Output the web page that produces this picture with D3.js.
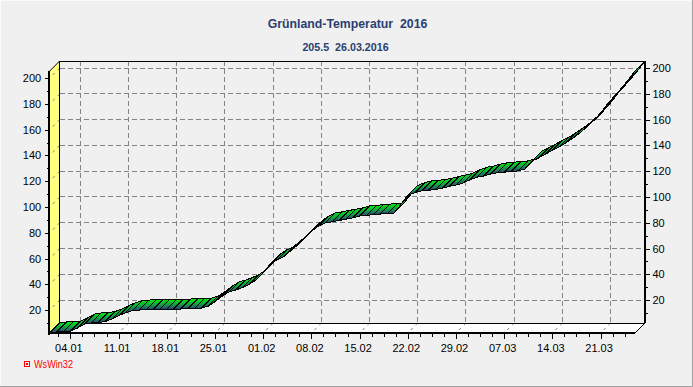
<!DOCTYPE html>
<html><head><meta charset="utf-8">
<script src="https://cdn.jsdelivr.net/npm/d3@7/dist/d3.min.js"></script>
<style>
html,body{margin:0;padding:0;background:#f0f0f0;overflow:hidden}
svg{display:block}
text{font-family:"Liberation Sans",Arial,sans-serif}
</style></head><body>
<svg id="c" width="693" height="387"></svg>
<script>
const titleText = "Grünland-Temperatur  2016";
const subtitleText = "205.5  26.03.2016";
const brandText = "WsWin32";
const dayIndex = d3.range(0, 86);
const seriesValues = [
 2.5,3,3.2,3.5,6,9,10,10.3,11,13,15.5,18,19.5,20,20.3,20.5,20.7,20.8,20.8,20.8,20.9,21,
 21.5,23,26.5,30.5,34,35.5,37.5,40,43.5,49,55.5,59,61.5,66,70.5,76,81,85,87.5,88.5,89.5,90.5,
 91.5,93,93.5,94,94.5,94.8,95.3,102,109,111,112.5,113,113.5,114.5,116,117,118.5,121,123,
 124,125.5,126.5,127,127.5,128,129.5,135.5,138,141,144,146.5,150,153.5,157.5,162,167,173,180,186,
 192,198.5,205.5];
const xTickDays = [3,10,17,24,31,38,45,52,59,66,73,80];
const xTickLabels = ["04.01","11.01","18.01","25.01","01.02","08.02","15.02","22.02","29.02","07.03","14.03","21.03"];
const xMinorDays = [1.25,4.75,6.5,8.25,11.75,13.5,15.25,18.75,20.5,22.25,25.75,27.5,29.25,32.75,34.5,36.25,39.75,41.5,43.25,46.75,48.5,50.25,53.75,55.5,57.25,60.75,62.5,64.25,67.75,69.5,71.25,74.75,76.5,78.25,81.75,83.5];
const yTicks = [20,40,60,80,100,120,140,160,180,200];
const yMinorTicks = [10,30,50,70,90,110,130,150,170,190];

const svg = d3.select("#c");
const depth = 10, L = 49.7, R = 635, T = 71, B = 333;
const x = d3.scaleLinear().domain([0,85]).range([L,R]);
const y = d3.scaleLinear().domain([2.2,205.5]).range([B,T]);
const grid = "#858585";

const defs = svg.append("defs");
const g = defs.append("linearGradient").attr("id","rib").attr("x1",0).attr("y1",0).attr("x2",0).attr("y2",1);
g.append("stop").attr("offset",0).attr("stop-color","#00f000");
g.append("stop").attr("offset",0.5).attr("stop-color","#10a840");
g.append("stop").attr("offset",1).attr("stop-color","#2c3c78");

// window
svg.append("rect").attr("width",693).attr("height",387).attr("fill","#f0f0f0");
svg.append("path").attr("d","M0.5 386V0.5H692").attr("fill","none").attr("stroke","#fbfbfb");
svg.append("path").attr("d","M0 386.5H692.5V0").attr("fill","none").attr("stroke","#a0a0a0");

// wall and floor
svg.append("polygon").attr("points",[[L,T],[L+depth,T-depth],[L+depth,B-depth],[L,B]].join(" "))
  .attr("fill","#ffff80");
svg.append("polygon").attr("points",[[L,B],[L+depth,B-depth],[R+depth,B-depth],[R,B]].join(" "))
  .attr("fill","#ffffff");

// grid
const gridG = svg.append("g").attr("fill","none").attr("stroke",grid).attr("stroke-dasharray","5 3").style("shape-rendering","crispEdges");
gridG.selectAll(".h").data(yTicks).join("line")
  .attr("x1",L+depth).attr("x2",R+depth).attr("y1",d=>y(d)-depth).attr("y2",d=>y(d)-depth);
gridG.selectAll(".v").data(xTickDays).join("line")
  .attr("y1",T-depth).attr("y2",B-depth).attr("x1",d=>x(d)+depth).attr("x2",d=>x(d)+depth);
const diagG = svg.append("g").attr("fill","none").attr("stroke",grid).attr("stroke-dasharray","3 4");
diagG.selectAll(".dh").data(yTicks).join("line")
  .attr("x1",L+depth).attr("x2",L).attr("y1",d=>y(d)-depth).attr("y2",d=>y(d));
diagG.selectAll(".dv").data(xTickDays).join("line")
  .attr("x1",d=>x(d)+depth).attr("x2",d=>x(d)).attr("y1",B-depth).attr("y2",B);

// frame lines
const frame = svg.append("g").attr("fill","none").attr("stroke","#000");
frame.append("path").attr("d",`M${L} ${T}L${L+depth} ${T-depth}`).attr("stroke-width",1);
frame.append("line").attr("x1",L+depth).attr("x2",R+depth).attr("y1",T-depth).attr("y2",T-depth).attr("stroke-width",1).style("shape-rendering","crispEdges");
frame.append("line").attr("x1",L+depth).attr("x2",L+depth).attr("y1",T-depth).attr("y2",B-depth).attr("stroke-width",1).style("shape-rendering","crispEdges");
frame.append("line").attr("x1",L+depth).attr("x2",R+depth).attr("y1",B-depth).attr("y2",B-depth).attr("stroke-width",1).style("shape-rendering","crispEdges");
frame.append("line").attr("x1",R).attr("x2",R+depth).attr("y1",B).attr("y2",B-depth).attr("stroke-width",1);
frame.append("line").attr("x1",L-1).attr("x2",L-1).attr("y1",T).attr("y2",B+1.5).attr("stroke-width",2).style("shape-rendering","crispEdges");
frame.append("line").attr("x1",L-2).attr("x2",R).attr("y1",B).attr("y2",B).attr("stroke-width",2).style("shape-rendering","crispEdges");
frame.append("line").attr("x1",R+depth).attr("x2",R+depth).attr("y1",T-depth).attr("y2",B-depth).attr("stroke-width",2).style("shape-rendering","crispEdges");

// ribbon
const quads = d3.pairs(dayIndex.map(d=>({d,v:seriesValues[d]})));
svg.append("g").selectAll("polygon").data(quads).join("polygon")
  .attr("points",([a,b])=>[
     [x(a.d),y(a.v)],[x(b.d),y(b.v)],
     [x(b.d)+depth,y(b.v)-depth],[x(a.d)+depth,y(a.v)-depth]].join(" "))
  .attr("fill","url(#rib)").attr("stroke","#000").attr("stroke-width",1)
  .attr("stroke-linejoin","bevel").style("shape-rendering","crispEdges");

// axes
function styleAxis(sel,size){
  sel.select(".domain").remove();
  sel.selectAll("line").attr("stroke","#000").style("shape-rendering","crispEdges");
  sel.selectAll("text").attr("font-size",size).attr("fill","#000").style("font-family",'"Liberation Sans",Arial,sans-serif');
}
const fs = 11;
svg.append("g").attr("transform",`translate(${L-1},0)`)
  .call(d3.axisLeft(y).tickValues(yTicks).tickSize(4).tickPadding(3.5)).call(styleAxis,fs);
svg.append("g").attr("transform",`translate(${L-1},0)`)
  .call(d3.axisLeft(y).tickValues(yMinorTicks).tickSize(2).tickFormat("")).call(styleAxis,fs);
const yBack = y.copy().range([B-depth,T-depth]);
svg.append("g").attr("transform",`translate(${R+depth+1},0)`)
  .call(d3.axisRight(yBack).tickValues(yTicks).tickSize(4).tickPadding(2.5)).call(styleAxis,fs);
svg.append("g").attr("transform",`translate(${R+depth+1},0)`)
  .call(d3.axisRight(yBack).tickValues(yMinorTicks).tickSize(2).tickFormat("")).call(styleAxis,fs);
const xAxisG = svg.append("g").attr("transform",`translate(0,${B+1})`)
  .call(d3.axisBottom(x).tickValues(xTickDays).tickSize(5).tickPadding(5.5).tickFormat((d,i)=>xTickLabels[i])).call(styleAxis,fs);
xAxisG.selectAll("text").attr("dx",-2);
svg.append("g").attr("transform",`translate(0,${B+1})`)
  .call(d3.axisBottom(x).tickValues(xMinorDays).tickSize(2.5).tickFormat("")).call(styleAxis,fs);

// titles
svg.append("text").attr("x",347.5).attr("y",28).attr("text-anchor","middle").attr("font-size",12.3).attr("font-weight","bold")
  .attr("fill","#2a3f6f").style("white-space","pre").text(titleText);
svg.append("text").attr("x",345.5).attr("y",51).attr("text-anchor","middle").attr("font-size",10.7).attr("font-weight","bold")
  .attr("fill","#2a3f6f").style("white-space","pre").text(subtitleText);

// brand
svg.append("rect").attr("x",24.5).attr("y",361.5).attr("width",5).attr("height",5).attr("fill","none").attr("stroke","#ff0000").style("shape-rendering","crispEdges");
svg.append("rect").attr("x",26).attr("y",363).attr("width",2).attr("height",2).attr("fill","#ff0000").style("shape-rendering","crispEdges");
svg.append("text").attr("x",34).attr("y",368).attr("font-size",10.5).attr("textLength",39).attr("lengthAdjust","spacingAndGlyphs").attr("fill","#ff0000").text(brandText);
</script>
</body></html>
